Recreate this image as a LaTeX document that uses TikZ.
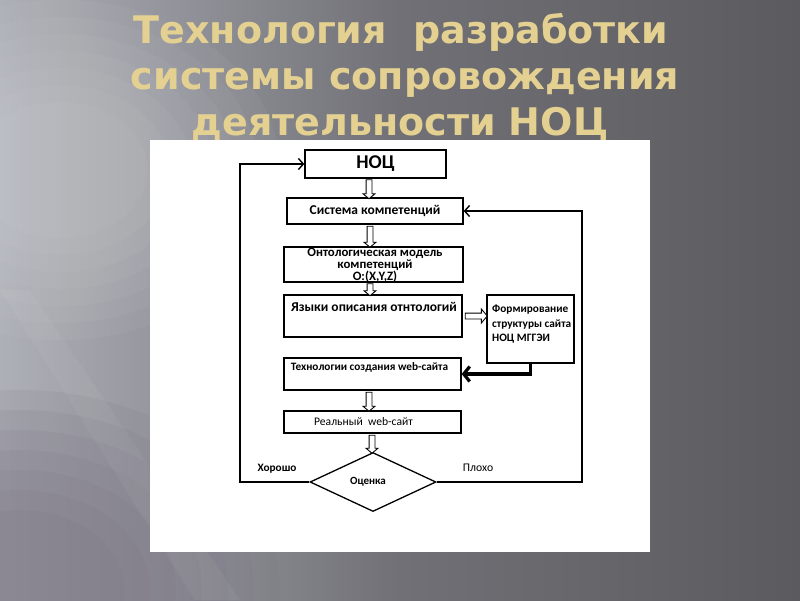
\documentclass[tikz,border=0pt]{standalone}
\usepackage{fontspec}
\setmainfont{Carlito}
\newfontfamily\titlefont{DejaVu Sans}
\usetikzlibrary{shapes.geometric,shapes.arrows,arrows.meta,calc}
\definecolor{bgL}{HTML}{AEB0B7}
\definecolor{bgM}{HTML}{707076}
\definecolor{bgR}{HTML}{5B5B5F}
\definecolor{bgP}{HTML}{7A7482}
\definecolor{titlec}{HTML}{E4D192}
\tikzset{
  box/.style={draw=black, line width=1.3pt, fill=white, inner sep=0pt},
  boxtxt/.style={font=\bfseries\fontsize{13.5}{13.5}\selectfont, inner sep=0pt, align=center},
  harrow/.style={single arrow, draw=black, fill=white, line width=0.9pt,
     inner xsep=0pt, inner ysep=2.5pt, text height=0pt, text depth=0pt,
     single arrow head extend=3pt, single arrow tip angle=100},
  conn/.style={draw=black, line width=1.4pt, -{Straight Barb[length=5pt,width=11pt,line width=1.4pt]}},
  thickconn/.style={draw=black, line width=3.4pt, -{Straight Barb[length=6pt,width=15pt,line width=3.2pt]}},
  ttl/.style={font=\titlefont\bfseries\fontsize{38}{38}\selectfont, text=titlec, inner sep=0pt, anchor=base},
  lbl/.style={font=\bfseries\fontsize{11.3}{11.3}\selectfont, inner sep=0pt}
}
\begin{document}
\begin{tikzpicture}[x=1pt,y=-1pt]
\useasboundingbox (0,0) rectangle (800,600);
% background
\shade[left color=bgL, right color=bgR, middle color=bgM] (0,0) rectangle (800,600);
\foreach \r in {1.0,0.9,...,0.3}{
  \fill[bgP, opacity=0.13] (20,590) ellipse ({260*\r} and {200*\r});
}
\foreach \r in {1.0,0.9,...,0.3}{
  \fill[white, opacity=0.035] (60,170) ellipse ({220*\r} and {170*\r});
}
\fill[white, opacity=0.045] (0,290) -- (30,290) -- (240,600) -- (195,600) -- cycle;
% title
\node[ttl] (t1) at (401,43) {Технология\ \ разработки};
\node[ttl] (t2) at (405,89) {системы сопровождения};
\node[ttl] (t3) at (400,135) {деятельности НОЦ};
% white panel
\fill[white] (150,140) rectangle (650,552);
% boxes
\node[box, minimum width=141pt, minimum height=28pt] (noc) at (375.5,164) {};
\node[font=\bfseries\fontsize{19.5}{19.5}\selectfont, inner sep=0pt] (noct) at (noc) {НОЦ};
\node[box, minimum width=176pt, minimum height=26pt] (sys) at (375,211) {};
\node[boxtxt] (syst) at (sys) {Система компетенций};
\node[box, minimum width=179pt, minimum height=35pt] (onto) at (373.5,264.5) {};
\node[boxtxt, font=\bfseries\fontsize{12.8}{9.8}\selectfont] (ontot) at (375,265.5) {Онтологическая модель\\компетенций\\O:(X,Y,Z)};
\node[box, minimum width=178pt, minimum height=42pt] (lang) at (373,316) {};
\node[boxtxt, anchor=north] (langt) at (374,302.5) {Языки описания отнтологий};
\node[box, minimum width=87pt, minimum height=68pt] (form) at (530.5,329) {};
\node[boxtxt, font=\bfseries\fontsize{11.3}{14.5}\selectfont, align=left, anchor=north west] (formt) at (492,305) {Формирование\\структуры сайта\\НОЦ МГГЭИ};
\node[box, minimum width=177pt, minimum height=32pt] (tech) at (372.5,374) {};
\node[boxtxt, font=\bfseries\fontsize{11.3}{11.3}\selectfont, anchor=north] (techt) at (369.5,362) {Технологии создания web-сайта};
\node[box, minimum width=177pt, minimum height=22pt] (real) at (372.5,422) {};
\node[boxtxt, font=\fontsize{11.6}{11.6}\selectfont] (realt) at (363.5,422) {Реальный\ \ web-сайт};
\node[diamond, draw=black, line width=1.3pt, fill=white, inner sep=0pt, minimum width=126pt, minimum height=59pt] (eval) at (373,482) {};
\node[lbl, font=\bfseries\fontsize{11}{11}\selectfont] (evalt) at (368,482) {Оценка};
% hollow arrows
\node[harrow, rotate=-90, minimum height=19pt] (a1) at (369,188) {};
\node[harrow, rotate=-90, minimum height=21pt] (a2) at (370,235.5) {};
\node[harrow, rotate=-90, minimum height=12pt] (a3) at (370,288.5) {};
\node[harrow, minimum height=22pt, single arrow head extend=4pt] (a4) at (475,316) {};
\node[harrow, rotate=-90, minimum height=19pt] (a5) at (369,400.5) {};
\node[harrow, rotate=-90, minimum height=18pt] (a6) at (372,443) {};
% loop connectors
\coordinate (L) at (240,482);
\coordinate (R) at (582,482);
\draw[conn] (eval.west) -- (L) |- (noc.west);
\draw[conn] (eval.east) -- (R) |- (sys.east);
\draw[thickconn] (form.south) |- (tech.east);
% labels
\node[lbl] (good) at (277,469) {Хорошо};
\node[lbl, font=\fontsize{11.7}{11.7}\selectfont] (bad) at (478,468) {Плохо};
\end{tikzpicture}
\end{document}
